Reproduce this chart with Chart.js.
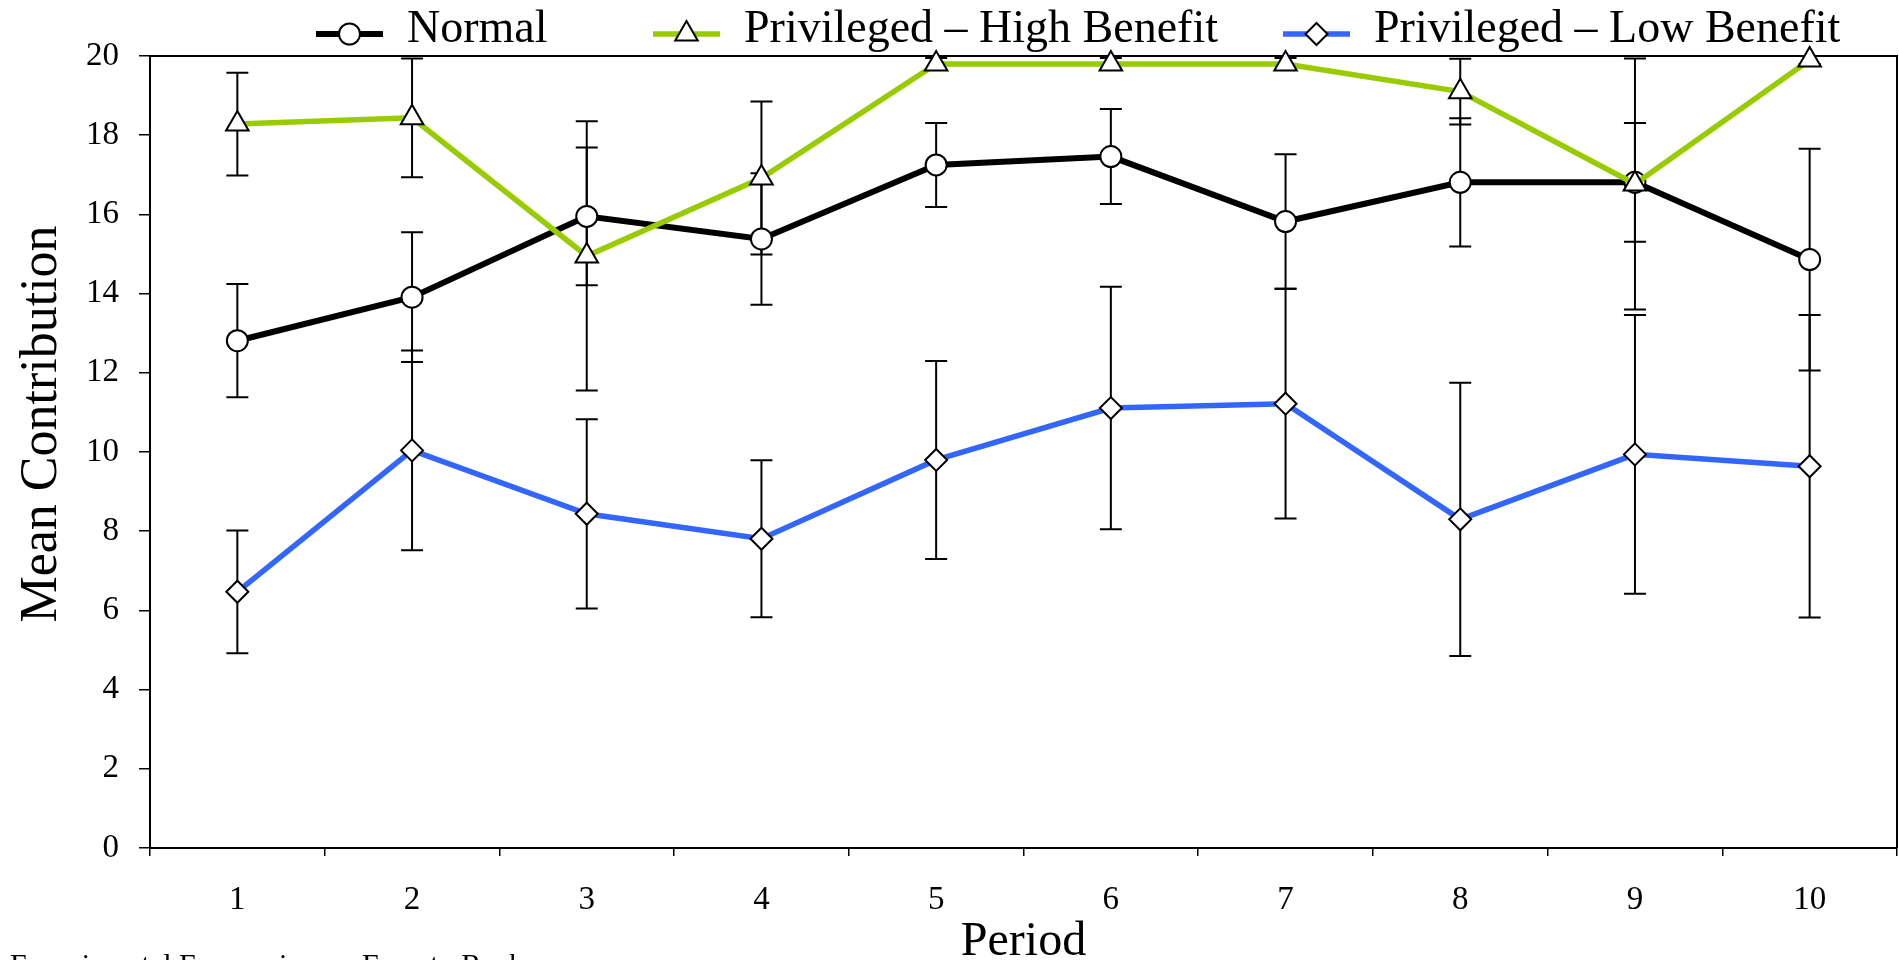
<!DOCTYPE html>
<html>
<head>
<meta charset="utf-8">
<title>Mean Contribution by Period</title>
<script src="https://cdn.jsdelivr.net/npm/chart.js@4/dist/chart.umd.min.js"></script>
<style>
  html, body { margin: 0; padding: 0; background: #fff; }
  canvas { display: block; }
</style>
</head>
<body>
<canvas id="myChart" width="1899" height="960"></canvas>
<script>
// periods on the x axis
var periods = ["1", "2", "3", "4", "5", "6", "7", "8", "9", "10"];

// mean contribution per period
var normalMeans = [12.81, 13.91, 15.95, 15.38, 17.25, 17.46, 15.82, 16.81, 16.81, 14.86];
var highMeans = [18.28, 18.44, 14.95, 16.92, 19.8, 19.8, 19.8, 19.1, 16.77, 19.9];
var lowMeans = [6.47, 10.04, 8.44, 7.81, 9.8, 11.11, 11.22, 8.3, 9.94, 9.64];

// half length of each error bar
var normalErr = [1.43, 1.64, 1.74, 1.66, 1.06, 1.2, 1.7, 1.62, 1.5, 2.8];
var highErr = [1.3, 1.5, 3.4, 1.93, 0.15, 0.15, 0.15, 0.83, 3.17, 0.1];
var lowErr = [1.55, 2.52, 2.39, 1.98, 2.5, 3.06, 2.9, 3.45, 3.52, 3.82];

var seriesNames = ["Normal", "Privileged \u2013 High Benefit", "Privileged \u2013 Low Benefit"];
var yTicks = [0, 2, 4, 6, 8, 10, 12, 14, 16, 18, 20];

var serif = "'Liberation Serif', 'Times New Roman', serif";
Chart.defaults.font.family = serif;
Chart.defaults.color = "#000";

// draws a marker shape, used by the legend
function drawMarker(ctx, style, r, x, y) {
  ctx.beginPath();
  if (style === "circle") {
    ctx.arc(x, y, r, 0, Math.PI * 2);
  } else if (style === "triangle") {
    for (var k = 0; k < 3; k++) {
      var a = k * 2 * Math.PI / 3;
      var px = x + Math.sin(a) * r, py = y - Math.cos(a) * r;
      if (k === 0) ctx.moveTo(px, py); else ctx.lineTo(px, py);
    }
    ctx.closePath();
  } else {
    ctx.moveTo(x, y - r);
    ctx.lineTo(x + r, y);
    ctx.lineTo(x, y + r);
    ctx.lineTo(x - r, y);
    ctx.closePath();
  }
  ctx.fillStyle = "#fff";
  ctx.fill();
  ctx.lineWidth = 2;
  ctx.strokeStyle = "#000";
  ctx.stroke();
}

// error bars and the box around the plot
var errorBarPlugin = {
  id: "errorBars",
  beforeDatasetsDraw: function (chart) {
    var ctx = chart.ctx;
    var xs = chart.scales.x, ys = chart.scales.y;
    var area = chart.chartArea;
    ctx.save();
    ctx.strokeStyle = "#000";
    ctx.lineWidth = 2;
    ctx.beginPath();
    ctx.moveTo(area.left, area.top);
    ctx.lineTo(area.right, area.top);
    ctx.lineTo(area.right, area.bottom);
    ctx.stroke();

    chart.data.datasets.forEach(function (ds) {
      ds.data.forEach(function (v, i) {
        var e = ds.errorBars[i];
        var x = xs.getPixelForValue(i);
        var yTop = ys.getPixelForValue(v + e);
        var yBot = ys.getPixelForValue(v - e);
        ctx.beginPath();
        ctx.lineWidth = 2;
        ctx.moveTo(x, yTop);
        ctx.lineTo(x, yBot);
        ctx.moveTo(x - 11, yTop);
        ctx.lineTo(x + 11, yTop);
        ctx.moveTo(x - 11, yBot);
        ctx.lineTo(x + 11, yBot);
        ctx.stroke();
      });
    });
    ctx.restore();
  }
};

// legend with a line sample through the marker, y title and footer text
var legendStarts = [316, 653, 1283];
var lineLegendPlugin = {
  id: "lineLegend",
  afterDraw: function (chart) {
    var ctx = chart.ctx;
    ctx.save();
    chart.data.datasets.forEach(function (ds, i) {
      var x0 = legendStarts[i];
      ctx.beginPath();
      ctx.strokeStyle = ds.borderColor;
      ctx.lineWidth = ds.borderWidth;
      ctx.moveTo(x0, 34);
      ctx.lineTo(x0 + 67, 34);
      ctx.stroke();
      drawMarker(ctx, ds.pointStyle, ds.pointRadius, x0 + 33.5, 34);
      ctx.fillStyle = "#000";
      ctx.font = "46px " + serif;
      ctx.textAlign = "left";
      ctx.textBaseline = "alphabetic";
      ctx.fillText(ds.label, x0 + 91, 42);
    });

    // y axis title, sits a little above the middle of the axis
    ctx.save();
    ctx.translate(42, 424);
    ctx.rotate(-Math.PI / 2);
    ctx.font = "52px " + serif;
    ctx.textAlign = "center";
    ctx.textBaseline = "middle";
    ctx.fillStyle = "#000";
    ctx.fillText("Mean Contribution", 0, 0);
    ctx.restore();

    ctx.font = "30px " + serif;
    ctx.fillStyle = "#000";
    ctx.textAlign = "left";
    ctx.textBaseline = "alphabetic";
    ctx.fillText("Experimental Economics", 10, 974);
    ctx.fillText("Ernesto Reuben", 362, 974);
    ctx.restore();
  }
};

var ctx = document.getElementById("myChart").getContext("2d");
var myChart = new Chart(ctx, {
  type: "line",
  data: {
    labels: periods,
    datasets: [
      {
        label: seriesNames[0],
        data: normalMeans,
        errorBars: normalErr,
        borderColor: "#000000",
        borderWidth: 6,
        pointStyle: "circle",
        pointRadius: 10.5,
        pointBackgroundColor: "#ffffff",
        pointBorderColor: "#000000",
        pointBorderWidth: 2,
        order: 3,
        clip: false,
      },
      {
        label: seriesNames[1],
        data: highMeans,
        errorBars: highErr,
        borderColor: "#99CC00",
        borderWidth: 5.5,
        pointStyle: "triangle",
        pointRadius: 13,
        pointBackgroundColor: "#ffffff",
        pointBorderColor: "#000000",
        pointBorderWidth: 2,
        order: 2,
        clip: false,
      },
      {
        label: seriesNames[2],
        data: lowMeans,
        errorBars: lowErr,
        borderColor: "#3366FF",
        borderWidth: 5.5,
        pointStyle: "rectRot",
        pointRadius: 11,
        pointBackgroundColor: "#ffffff",
        pointBorderColor: "#000000",
        pointBorderWidth: 2,
        order: 1,
        clip: false,
      },
    ],
  },
  options: {
    responsive: false,
    animation: false,
    devicePixelRatio: 1,
    layout: { autoPadding: false, padding: { top: 56, right: 2, left: 0, bottom: 0 } },
    elements: { line: { tension: 0 } },
    plugins: {
      legend: { display: false },
      tooltip: { enabled: false },
    },
    scales: {
      x: {
        type: "category",
        offset: true,
        grid: { offset: true, drawOnChartArea: false, tickLength: 8, color: "#000", lineWidth: 1.5 },
        border: { color: "#000", width: 2 },
        ticks: { font: { size: 33 }, padding: 25 },
        title: { display: true, text: "Period", font: { size: 48, lineHeight: 0.72 }, padding: 0 },
        afterFit: function (s) {
          s.height = 112;
          s.paddingLeft = 0;
          s.paddingRight = 0;
        },
      },
      y: {
        min: 0,
        max: 20,
        afterBuildTicks: function (s) { s.ticks = yTicks.map(function (v) { return { value: v }; }); },
        grid: { drawOnChartArea: false, tickLength: 11, color: "#000", lineWidth: 1.5 },
        border: { color: "#000", width: 2 },
        ticks: { font: { size: 33 }, padding: 20 },
        afterFit: function (s) { s.width = 150; },
      },
    },
  },
  plugins: [errorBarPlugin, lineLegendPlugin],
});
</script>
</body>
</html>
